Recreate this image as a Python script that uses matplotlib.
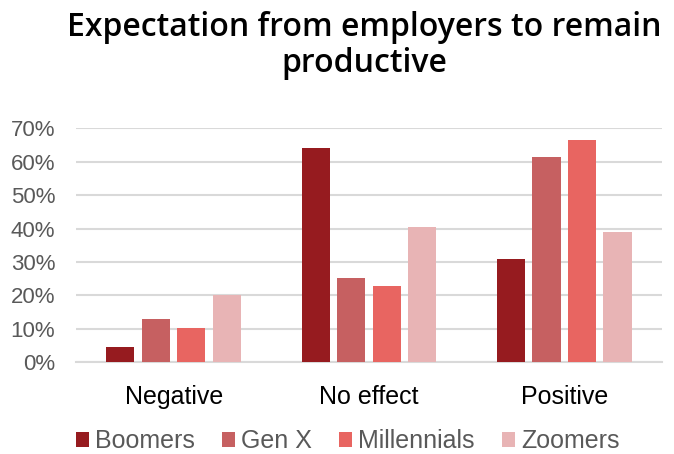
import numpy as np
import matplotlib
matplotlib.use("Agg")
import matplotlib.pyplot as plt
from matplotlib.ticker import PercentFormatter

categories = ["Negative", "No effect", "Positive"]
groups = ["Boomers", "Gen X", "Millennials", "Zoomers"]
boomers = [4.5, 64.1, 30.9]
gen_x = [13.0, 25.2, 61.4]
millennials = [10.3, 22.8, 66.5]
zoomers = [20.1, 40.5, 39.0]
colors = ["#961b1f", "#c66061", "#e86561", "#e8b4b5"]

plt.rcParams["font.family"] = ["Liberation Sans", "DejaVu Sans"]

fig = plt.figure(figsize=(6.74, 4.54), dpi=100)
ax = fig.add_axes([0.1128, 0.202, 0.8692, 0.5154])

x = np.arange(len(categories))
step = 0.182
width = 0.144
series = [boomers, gen_x, millennials, zoomers]
for i, (vals, name, c) in enumerate(zip(series, groups, colors)):
    ax.bar(x + (i - 1.5) * step, np.array(vals) / 100, width, color=c,
           label=name, zorder=3)

ax.set_xlim(-0.5, 2.5)
ax.set_ylim(0, 0.7)
ax.set_yticks(np.arange(0, 0.71, 0.1))
ax.yaxis.set_major_formatter(PercentFormatter(1.0, decimals=0))
ax.grid(axis="y", color="#d9d9d9", linewidth=1.5, zorder=0)
for side in ["top", "right", "left"]:
    ax.spines[side].set_visible(False)
ax.spines["bottom"].set_color("#d9d9d9")
ax.spines["bottom"].set_linewidth(1.5)
ax.tick_params(axis="y", length=0, labelsize=16, labelcolor="#595959", pad=15)
ax.tick_params(axis="x", length=0, labelsize=18, labelcolor="#000000", pad=16)
ax.set_xticks(x)
ax.set_xticklabels(categories)

fig.text(0.54, 0.975, "Expectation from employers to remain\nproductive",
         ha="center", va="top", fontsize=23, fontweight="semibold",
         family=["Open Sans", "DejaVu Sans"], linespacing=1.1)

leg = fig.legend(loc="center", bbox_to_anchor=(0.516, 0.028), ncol=4,
                 frameon=False, fontsize=18, handlelength=0.5,
                 handleheight=0.5, handletextpad=0.25, columnspacing=1.1)
for t in leg.get_texts():
    t.set_color("#595959")

fig.savefig("out.png", dpi=100)
